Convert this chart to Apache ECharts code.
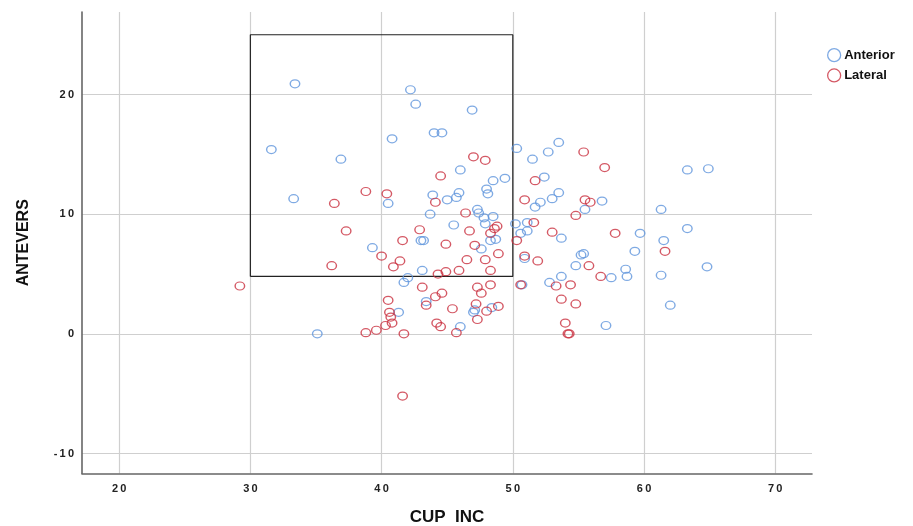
<!DOCTYPE html>
<html>
<head>
<meta charset="utf-8">
<script src="https://cdn.jsdelivr.net/npm/echarts@6/dist/echarts.min.js"></script>
<style>
html,body{margin:0;padding:0;background:#fff;}
#chart{width:913px;height:526px;}
</style>
</head>
<body>
<div id="chart"></div>
<script>
// Data
var seriesNames = ['Anterior', 'Lateral'];
var anterior = [
  [33.4,20.9],[42.2,20.4],[42.6,19.2],[46.9,18.7],[44.0,16.8],[44.6,16.8],[40.8,16.3],[31.6,15.4],
  [36.9,14.6],[50.3,15.5],[51.5,14.6],[53.5,16.0],[52.7,15.2],[46.0,13.7],[48.5,12.8],[49.4,13.0],
  [52.4,13.1],[63.3,13.7],[64.9,13.8],[48.0,12.1],[48.1,11.7],[43.9,11.6],[45.0,11.2],[45.7,11.4],
  [45.9,11.8],[33.3,11.3],[40.5,10.9],[53.5,11.8],[53.0,11.3],[52.1,11.0],[51.7,10.6],[56.8,11.1],
  [55.5,10.4],[61.3,10.4],[43.7,10.0],[47.3,10.4],[47.4,10.1],[47.8,9.7],[48.5,9.8],[47.9,9.2],
  [45.5,9.1],[50.2,9.2],[51.1,9.3],[50.6,8.4],[51.1,8.6],[53.7,8.0],[59.7,8.4],[63.3,8.8],
  [61.5,7.8],[43.0,7.8],[43.2,7.8],[48.3,7.8],[48.7,7.9],[47.6,7.1],[39.3,7.2],[55.2,6.6],
  [55.4,6.7],[59.3,6.9],[50.9,6.3],[54.8,5.7],[64.8,5.6],[58.6,5.4],[58.7,4.8],[61.3,4.9],
  [57.5,4.7],[53.7,4.8],[52.8,4.3],[50.7,4.1],[43.1,5.3],[42.0,4.7],[41.7,4.3],[43.4,2.7],
  [41.3,1.8],[47.0,1.8],[47.1,2.0],[48.4,2.2],[46.0,0.6],[35.1,0.0],[62.0,2.4],[57.1,0.7]
];
var lateral = [
  [47.0,14.8],[47.9,14.5],[44.5,13.2],[38.8,11.9],[40.4,11.7],[36.4,10.9],[44.1,11.0],[50.9,11.2],
  [55.4,15.2],[57.0,13.9],[51.7,12.8],[55.5,11.2],[55.9,11.0],[54.8,9.9],[51.6,9.3],[53.0,8.5],
  [57.8,8.4],[46.4,10.1],[37.3,8.6],[42.9,8.7],[46.7,8.6],[48.3,8.4],[48.6,8.8],[48.8,9.0],
  [41.6,7.8],[44.9,7.5],[47.1,7.4],[50.3,7.8],[48.9,6.7],[40.0,6.5],[41.4,6.1],[40.9,5.6],
  [36.2,5.7],[46.5,6.2],[47.9,6.2],[50.9,6.5],[51.9,6.1],[55.8,5.7],[56.7,4.8],[61.6,6.9],
  [44.3,5.0],[44.9,5.2],[45.9,5.3],[48.3,5.3],[29.2,4.0],[43.1,3.9],[47.3,3.9],[47.6,3.4],
  [48.3,4.1],[50.6,4.1],[53.3,4.0],[54.4,4.1],[44.1,3.1],[44.6,3.4],[40.5,2.8],[43.4,2.4],
  [47.2,2.5],[45.4,2.1],[48.0,1.9],[48.9,2.3],[53.7,2.9],[54.8,2.5],[40.6,1.8],[40.7,1.4],
  [40.8,0.9],[40.3,0.7],[39.6,0.3],[38.8,0.1],[41.7,0.0],[47.3,1.2],[44.2,0.9],[44.5,0.6],
  [45.7,0.1],[54.0,0.9],[54.2,0.0],[54.3,0.0],[41.6,-5.2]
];
var boxX = [30, 30, 50, 50, 30];
var boxY = [4.8, 25, 25, 4.8, 4.8];
var xTicks = [20, 30, 40, 50, 60, 70];
var yTicks = [-10, 0, 10, 20];

var BLUE = '#5f95dc';
var RED = '#c9303f';
var FONT = "'Liberation Sans', Arial, sans-serif";
var ELLIPSE = 'path://M0,5A5,5 0 1,0 10,5A5,5 0 1,0 0,5Z';

function spaced(v) {
  return String(v).split('').join('\u2009');
}

var boxData = boxX.map(function (x, i) { return [x, boxY[i]]; });

var chart = echarts.init(document.getElementById('chart'), null, {renderer: 'canvas'});
chart.setOption({
  animation: false,
  backgroundColor: '#fff',
  grid: {left: 82, right: 101, top: 12, bottom: 52.5, containLabel: false, outerBoundsMode: 'none'},
  legend: {
    orient: 'vertical',
    left: 822,
    top: 43,
    itemWidth: 16,
    itemHeight: 13,
    itemGap: 6,
    icon: ELLIPSE,
    textStyle: {fontFamily: FONT, fontWeight: 'bold', fontSize: 13, color: '#111', padding: [0, 0, 0, -3]},
    data: [
      {name: seriesNames[0], itemStyle: {color: 'rgba(0,0,0,0)', borderColor: BLUE, borderWidth: 1.3}},
      {name: seriesNames[1], itemStyle: {color: 'rgba(0,0,0,0)', borderColor: RED, borderWidth: 1.3}}
    ]
  },
  xAxis: {
    type: 'value',
    min: 17.17,
    max: 72.8,
    minInterval: 10,
    maxInterval: 10,
    name: 'CUP  INC',
    nameLocation: 'middle',
    nameGap: 35,
    nameTextStyle: {fontFamily: FONT, fontWeight: 'bold', fontSize: 17, color: '#111'},
    axisLine: {show: true, onZero: false, lineStyle: {color: '#666', width: 1.6}},
    axisTick: {show: false},
    axisLabel: {
      show: true, margin: 10, showMinLabel: false, showMaxLabel: false,
      fontFamily: FONT, fontWeight: 'bold', fontSize: 11, color: '#222',
      formatter: function (v) { return xTicks.indexOf(v) >= 0 ? spaced(v) : ''; }
    },
    splitLine: {show: true, showMinLine: false, showMaxLine: false, lineStyle: {color: '#cfcfcf', width: 1.2}}
  },
  yAxis: {
    type: 'value',
    min: -11.67,
    max: 26.9,
    minInterval: 10,
    maxInterval: 10,
    name: 'ANTEVERS',
    nameLocation: 'middle',
    nameGap: 50,
    nameTextStyle: {fontFamily: FONT, fontWeight: 'bold', fontSize: 16, color: '#111'},
    axisLine: {show: true, onZero: false, lineStyle: {color: '#666', width: 1.6}},
    axisTick: {show: false},
    axisLabel: {
      show: true, margin: 8, showMinLabel: false, showMaxLabel: false,
      fontFamily: FONT, fontWeight: 'bold', fontSize: 11, color: '#222',
      formatter: function (v) { return yTicks.indexOf(v) >= 0 ? spaced(v) : ''; }
    },
    splitLine: {show: true, showMinLine: false, showMaxLine: false, lineStyle: {color: '#cfcfcf', width: 1.2}}
  },
  series: [
    {
      name: 'box',
      type: 'line',
      data: boxData,
      symbol: 'none',
      silent: true,
      lineStyle: {color: '#222', width: 1.2},
      z: 1
    },
    {
      name: seriesNames[0],
      type: 'scatter',
      data: anterior,
      symbol: ELLIPSE,
      symbolSize: [9.5, 8],
      itemStyle: {color: 'rgba(0,0,0,0)', borderColor: BLUE, borderWidth: 1.3},
      z: 3
    },
    {
      name: seriesNames[1],
      type: 'scatter',
      data: lateral,
      symbol: ELLIPSE,
      symbolSize: [9.5, 8],
      itemStyle: {color: 'rgba(0,0,0,0)', borderColor: RED, borderWidth: 1.3},
      z: 3
    }
  ]
});
</script>
</body>
</html>
